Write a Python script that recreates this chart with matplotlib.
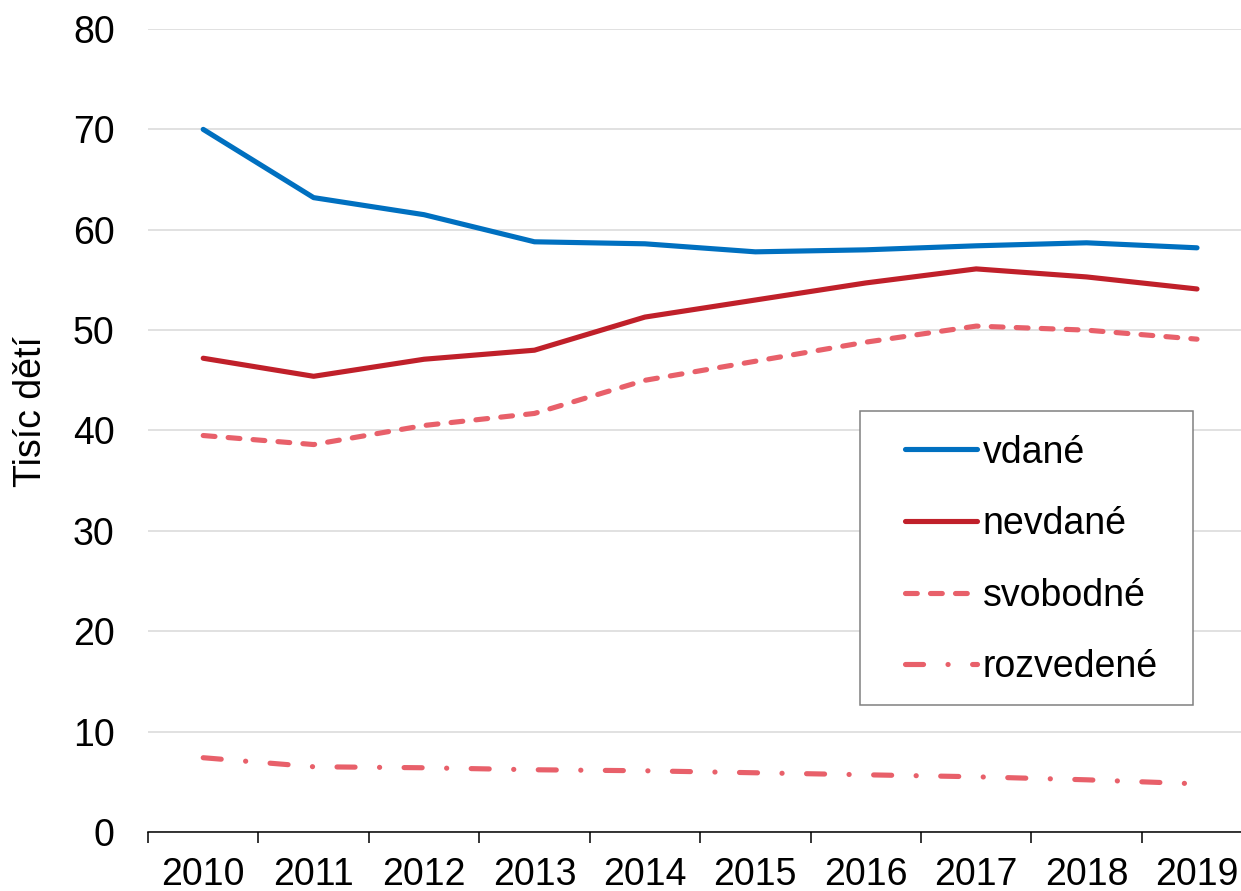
import matplotlib
matplotlib.use("Agg")
import matplotlib.pyplot as plt
from matplotlib.patches import Rectangle
from matplotlib.ticker import FixedLocator, NullFormatter

plt.rcParams['font.family'] = ['Liberation Sans', 'DejaVu Sans']
plt.rcParams['lines.scale_dashes'] = False

years = ['2010', '2011', '2012', '2013', '2014', '2015', '2016', '2017', '2018', '2019']
vdane = [70.0, 63.2, 61.5, 58.8, 58.6, 57.8, 58.0, 58.4, 58.7, 58.2]
nevdane = [47.2, 45.4, 47.1, 48.0, 51.3, 53.0, 54.7, 56.1, 55.3, 54.1]
svobodne = [39.5, 38.6, 40.5, 41.7, 45.0, 46.9, 48.8, 50.4, 50.0, 49.1]
rozvedene = [7.4, 6.5, 6.4, 6.2, 6.1, 5.9, 5.7, 5.5, 5.2, 4.8]
labels = ['vdané', 'nevdané', 'svobodné', 'rozvedené']
yticks = [0, 10, 20, 30, 40, 50, 60, 70, 80]

W, H = 1241, 891
fig = plt.figure(figsize=(W / 100, H / 100), dpi=100)
ax = fig.add_axes([148 / W, (H - 832) / H, 1 - 148 / W, (832 - 29) / H])

x = list(range(len(years)))
lw = 3.7
ax.plot(x, vdane, color='#0070C0', lw=lw, solid_capstyle='round', label=labels[0], zorder=3)
ax.plot(x, nevdane, color='#C0202A', lw=lw, solid_capstyle='round', label=labels[1], zorder=3)
ax.plot(x, svobodne, color='#E8606A', lw=lw, ls=(0, (8.5, 9.5)), dash_capstyle='round',
        label=labels[2], zorder=3)
ax.plot(x, rozvedene, color='#E8606A', lw=lw, ls=(0, (13, 17.6, 0.1, 17.6)),
        dash_capstyle='round', label=labels[3], zorder=3)

ax.set_xlim(-0.5, (W - 203) / ((1197 - 203) / 9))
ax.set_ylim(0, 80)
ax.set_yticks(yticks)
ax.set_xticks(x)
ax.set_xticklabels(years)
ax.xaxis.set_minor_locator(FixedLocator([i - 0.5 for i in range(len(years) + 1)]))
ax.xaxis.set_minor_formatter(NullFormatter())
ax.tick_params(axis='x', which='major', length=0, pad=18, labelsize=27)
ax.tick_params(axis='x', which='minor', length=8, width=1.1, color='black')
ax.tick_params(axis='y', length=0, pad=24, labelsize=27)

ax.grid(axis='y', color='#D9D9D9', lw=1.1, zorder=0)
ax.set_axisbelow(True)
for s in ['top', 'right', 'left']:
    ax.spines[s].set_visible(False)
ax.spines['bottom'].set_color('black')
ax.spines['bottom'].set_linewidth(1.1)
ax.spines['bottom'].set_zorder(4)

fig.text(31 / W, 1 - 412 / H, 'Tisíc dětí', rotation=90, ha='center', va='center', fontsize=27)

# legend frame
fig.patches.append(Rectangle((860 / W, 1 - 705 / H), (1193 - 860) / W, (705 - 411) / H,
                             transform=fig.transFigure, facecolor='white',
                             edgecolor='#808080', lw=1.1, zorder=5))
leg = fig.legend(loc='center left', bbox_to_anchor=(905 / W, 1 - 560 / H), frameon=False,
                 fontsize=27, handlelength=1.92, handletextpad=0.15, labelspacing=0.95,
                 borderpad=0, borderaxespad=0)
leg.set_zorder(6)

fig.savefig('out.png', dpi=100)
